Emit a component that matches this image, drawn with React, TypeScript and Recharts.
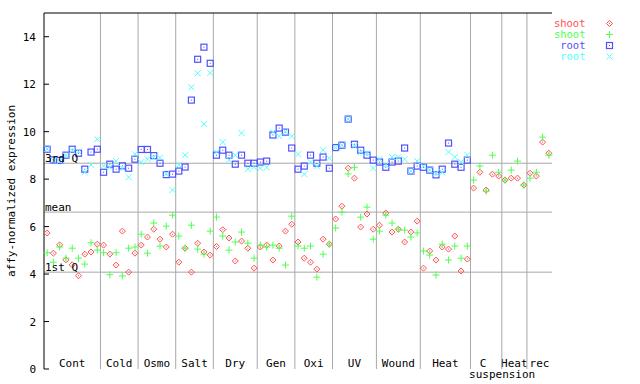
import React from "react";
import {
  ScatterChart,
  Scatter,
  XAxis,
  YAxis,
  ReferenceLine,
  ReferenceArea,
  Legend,
  Label,
} from "recharts";

const groups = ["Cont", "Cold", "Osmo", "Salt", "Dry", "Gen", "Oxi", "UV", "Wound", "Heat", "C suspension", "Heat", "rec"];
const groupSizes = [9, 6, 6, 6, 7, 6, 6, 7, 7, 8, 5, 4, 4];
const yTicks = [0, 2, 4, 6, 8, 10, 12, 14];
const refNames = ["3rd Q", "mean", "1st Q"];
const refValues = [8.67, 6.61, 4.08];

const shootRed = [
  5.73, 4.88, 5.23, 4.6, 4.39, 3.93, 4.84, 4.93, 5.26,
  5.22, 4.84, 4.38, 5.81, 4.08, 4.88,
  5.22, 5.56, 5.89, 5.47, 5.14, 5.68,
  4.5, 5.09, 4.08, 5.3, 4.93, 4.8,
  5.16, 5.87, 5.52, 4.55, 5.39, 5.09, 4.25,
  5.14, 5.22, 4.59, 5.18, 5.81, 6.1,
  5.35, 4.67, 4.5, 4.21, 5.47, 5.26,
  6.32, 6.86, 8.46, 8.04, 5.98, 6.53, 5.89,
  6.06, 6.57, 5.77, 5.89, 5.35, 5.77, 6.23,
  4.25, 4.97, 4.59, 5.14, 5.05, 5.6, 4.13, 4.63,
  7.62, 8.29, 7.54, 8.21, 8.13,
  7.96, 8.04, 8.04, 7.75,
  8.25, 8.13, 9.56, 9.09,
];
const shootGreen = [
  4.9, 4.5, 5.14, 4.67, 5.09, 4.67, 4.42, 5.32, 5.01,
  4.9, 3.97, 4.9, 3.92, 5.09, 5.14,
  5.68, 4.88, 6.15, 5.18, 6.02, 6.48,
  5.6, 5.09, 6.06, 5.05, 4.84, 5.81,
  6.4, 5.6, 5.01, 5.35, 5.77, 5.3, 4.67,
  5.22, 5.14, 5.22, 5.09, 4.38, 6.44,
  5.18, 5.09, 5.18, 3.87, 4.84, 5.26,
  5.94, 6.61, 8.22, 8.5, 6.4, 6.82, 5.47,
  5.81, 6.48, 6.15, 5.89, 5.85, 5.56, 5.73,
  4.97, 4.8, 3.96, 5.26, 4.59, 5.18, 4.67, 5.18,
  7.96, 8.55, 7.49, 9.01, 8.29,
  7.96, 8.38, 8.76, 7.75,
  8.04, 8.29, 9.77, 9.01,
];
const rootBlue = [
  9.26, 8.81, 8.79, 9.01, 9.26, 9.09, 8.42, 9.14, 9.26,
  8.29, 8.63, 8.42, 8.56, 8.46, 8.84,
  9.25, 9.25, 8.99, 8.67, 8.19, 8.21,
  8.34, 8.51, 11.33, 13.05, 13.56, 12.88,
  9.01, 9.22, 9.01, 8.63, 9.01, 8.67, 8.67,
  8.72, 8.76, 9.86, 10.15, 9.98, 9.31,
  8.42, 8.55, 9.01, 8.67, 8.93, 8.46,
  9.33, 9.43, 10.53, 9.47, 9.22, 9.01, 8.8,
  8.72, 8.5, 8.72, 8.76, 9.31, 8.34, 8.55,
  8.5, 8.38, 8.18, 8.42, 9.52, 8.63, 8.5, 8.8,
];
const rootCyan = [
  9.28, 8.8, 8.76, 9.0, 9.2, 9.16, 8.29, 8.6, 9.68,
  8.56, 8.5, 8.76, 8.46, 8.08, 9.05,
  8.72, 8.84, 8.91, 8.91, 8.22, 7.54,
  8.6, 9.01, 11.87, 12.46, 10.32, 12.48,
  9.14, 9.56, 8.8, 9.01, 9.94, 8.42, 8.5,
  8.46, 8.5, 9.98, 9.81, 10.0, 9.81,
  9.05, 8.21, 8.72, 8.55, 9.22, 8.88,
  9.33, 9.43, 10.53, 9.39, 9.14, 9.09, 8.46,
  8.84, 8.59, 8.93, 8.93, 8.84, 8.34, 8.76,
  8.55, 8.38, 8.25, 8.29, 9.14, 8.93, 8.72, 9.01,
];

const FONT = "'DejaVu Sans Mono', monospace";
const GRID = "#a8a8a8";

const total = groupSizes.reduce((s, n) => s + n, 0);
const spans: { name: string; start: number; end: number }[] = [];
groupSizes.reduce((start, n, i) => {
  spans.push({ name: groups[i], start, end: start + n });
  return start + n;
}, 0);
const bounds = spans.slice(0, -1).map((s) => s.end);

const toPoints = (vals: number[]) => vals.map((v, i) => ({ x: i + 0.5, y: v }));

function Diamond({ cx, cy, fill }: any) {
  return (
    <g>
      <polygon
        points={`${cx},${cy - 3} ${cx + 3},${cy} ${cx},${cy + 3} ${cx - 3},${cy}`}
        fill="none"
        stroke={fill}
        strokeWidth={1}
      />
      <rect x={cx - 0.5} y={cy - 0.5} width={1} height={1} fill={fill} />
    </g>
  );
}

function Plus({ cx, cy, fill }: any) {
  return (
    <g stroke={fill} strokeWidth={1}>
      <line x1={cx - 3.5} x2={cx + 3.5} y1={cy} y2={cy} />
      <line x1={cx} x2={cx} y1={cy - 3.5} y2={cy + 3.5} />
    </g>
  );
}

function Square({ cx, cy, fill }: any) {
  return (
    <g>
      <rect x={cx - 3} y={cy - 3} width={6} height={6} fill="none" stroke={fill} strokeWidth={1.2} />
      <rect x={cx - 0.5} y={cy - 0.5} width={1} height={1} fill={fill} />
    </g>
  );
}

function Cross({ cx, cy, fill }: any) {
  return (
    <g stroke={fill} strokeWidth={1}>
      <line x1={cx - 3} x2={cx + 3} y1={cy - 3} y2={cy + 3} />
      <line x1={cx - 3} x2={cx + 3} y1={cy + 3} y2={cy - 3} />
    </g>
  );
}

const series = [
  { name: "shoot", color: "#ff5050", data: shootRed, shape: Diamond },
  { name: "shoot", color: "#50ff50", data: shootGreen, shape: Plus },
  { name: "root", color: "#5050ff", data: rootBlue, shape: Square },
  { name: "root", color: "#50ffff", data: rootCyan, shape: Cross },
];

function LeftTick({ x, y, payload }: any) {
  return (
    <g>
      <line x1={x + 8} x2={x + 13} y1={y} y2={y} stroke="#000" />
      <text x={x} y={y} dy={4} textAnchor="end" fontFamily={FONT} fontSize={11} fill="#000">
        {payload.value}
      </text>
    </g>
  );
}

function RightTick({ x, y }: any) {
  return <line x1={x - 6} x2={x} y1={y} y2={y} stroke="#000" />;
}

function groupLabel(name: string) {
  return ({ viewBox }: any) => {
    if (!viewBox) return null;
    const cx = viewBox.x + viewBox.width / 2;
    const base = viewBox.y + viewBox.height;
    const words = name.split(" ");
    if (words.length > 1) {
      return (
        <g fontFamily={FONT} fontSize={11} fill="#000">
          <text x={cx - 3} y={base - 2} textAnchor="middle">{words[0]}</text>
          <text x={cx + 16} y={base + 9} textAnchor="middle">{words.slice(1).join(" ")}</text>
        </g>
      );
    }
    return (
      <text x={cx} y={base - 2} textAnchor="middle" fontFamily={FONT} fontSize={11} fill="#000">
        {name}
      </text>
    );
  };
}

function LegendBox() {
  return (
    <svg width={100} height={52}>
      {series.map((s, i) => (
        <g key={i}>
          <text x={45.5} y={13 + i * 11} textAnchor="end" fontFamily={FONT} fontSize={10.5} fill={s.color}>
            {s.name}
          </text>
          <s.shape cx={69.5} cy={9.5 + i * 11} fill={s.color} />
        </g>
      ))}
    </svg>
  );
}

export default function App() {
  return (
    <div style={{ position: "absolute", left: 0, top: 0, background: "#fff" }}>
      <ScatterChart width={640} height={384} margin={{ top: 13, right: 88, bottom: 15, left: 0 }}>
        <XAxis
          type="number"
          dataKey="x"
          domain={[0, total]}
          height={0}
          tick={false}
          tickLine={false}
          axisLine={{ stroke: "#000", strokeWidth: 1 }}
        />
        <YAxis
          type="number"
          dataKey="y"
          domain={[0, 15]}
          ticks={yTicks}
          width={44}
          tickSize={0}
          tickMargin={8}
          tickLine={false}
          axisLine={{ stroke: "#000", strokeWidth: 1 }}
          tick={<LeftTick />}
        >
          <Label
            content={() => (
              <text
                transform="translate(15,191) rotate(-90)"
                textAnchor="middle"
                fontFamily={FONT}
                fontSize={11}
                fill="#000"
              >
                affy-normalized expression
              </text>
            )}
          />
        </YAxis>
        <YAxis
          yAxisId="right"
          orientation="right"
          type="number"
          domain={[0, 15]}
          ticks={yTicks}
          width={0}
          tickSize={0}
          tickMargin={0}
          tickLine={false}
          axisLine={{ stroke: "#000", strokeWidth: 1 }}
          tick={<RightTick />}
        />
        {spans.map((s) => (
          <ReferenceArea
            key={s.start}
            x1={s.start}
            x2={s.end}
            y1={0}
            y2={15}
            fill="none"
            fillOpacity={0}
            stroke="none"
            label={groupLabel(s.name)}
          />
        ))}
        {bounds.map((b) => (
          <ReferenceLine key={b} x={b} stroke={GRID} strokeWidth={1} />
        ))}
        {refValues.map((v, i) => (
          <ReferenceLine
            key={refNames[i]}
            y={v}
            stroke={GRID}
            strokeWidth={1}
            label={{
              value: refNames[i],
              position: "insideBottomLeft",
              offset: 1,
              fill: "#000",
              fontSize: 11,
              fontFamily: FONT,
            }}
          />
        ))}
        <ReferenceLine y={15} stroke="#000" strokeWidth={1} />
        {series.map((s, i) => (
          <Scatter
            key={i}
            name={s.name}
            data={toPoints(s.data)}
            fill={s.color}
            shape={s.shape}
            isAnimationActive={false}
          />
        ))}
        <Legend
          layout="vertical"
          align="center"
          verticalAlign="middle"
          wrapperStyle={{ left: 540, top: 14, width: 100, height: 52 }}
          content={<LegendBox />}
        />
      </ScatterChart>
    </div>
  );
}
